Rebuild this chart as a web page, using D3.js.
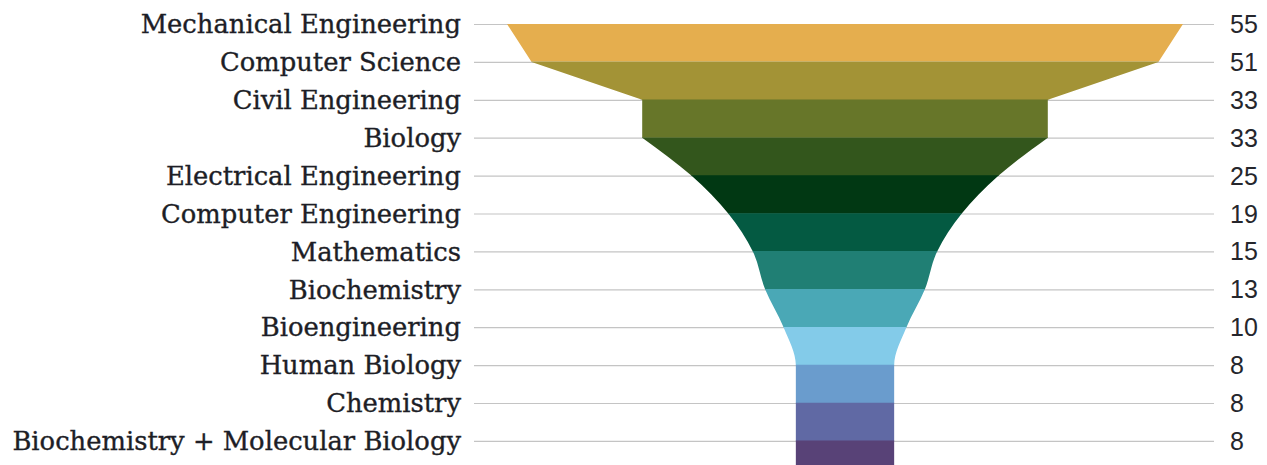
<!DOCTYPE html>
<html>
<head>
<meta charset="utf-8">
<script src="https://cdn.jsdelivr.net/npm/d3@7"></script>
<style>
  body { margin: 0; background: #fff; }
  svg { display: block; }
</style>
</head>
<body>
<div id="chart"></div>
<script>
const majors = ['Mechanical Engineering', 'Computer Science', 'Civil Engineering', 'Biology',
    'Electrical Engineering', 'Computer Engineering', 'Mathematics', 'Biochemistry',
    'Bioengineering', 'Human Biology', 'Chemistry', 'Biochemistry + Molecular Biology'];
const counts = [55, 51, 33, 33, 25, 19, 15, 13, 10, 8, 8, 8];
const bandColors = ['#e5ae4e', '#a39336', '#677629', '#33561c', '#013813', '#045a42',
    '#207f74', '#4aa8b6', '#83cbe9', '#6a9ccd', '#6069a4', '#584277'];

const width = 1267, height = 465;
const centerX = 845;
const lineLeft = 474, lineRight = 1214;

const svg = d3.select('#chart').append('svg')
    .attr('width', width)
    .attr('height', height);

// one row per major, the last row gets an extra slot for the bottom edge
const y = d3.scalePoint()
    .domain(d3.range(majors.length + 1))
    .range([24, 24 + 37.9 * majors.length]);

const half = d3.scaleLinear().domain([0, 55]).range([0, 338]);

// grid lines behind the funnel
svg.append('g').selectAll('line')
    .data(majors)
    .join('line')
    .attr('x1', lineLeft)
    .attr('x2', lineRight)
    .attr('y1', (d, i) => y(i) + 0.5)
    .attr('y2', (d, i) => y(i) + 0.5)
    .attr('stroke', '#c4c4c4')
    .attr('stroke-width', 1.2);

// outline points: value at each row boundary, last value repeated for the bottom
const pts = counts.map((v, i) => ({ v, i })).concat([{ v: counts[counts.length - 1], i: counts.length }]);

const area = d3.area()
    .y(d => y(d.i))
    .x0(d => centerX - half(d.v))
    .x1(d => centerX + half(d.v));

// top part is straight, the rest is smoothed
const topPath = area.curve(d3.curveLinear)(pts.slice(0, 4));
const lowPath = area.curve(d3.curveMonotoneY)(pts.slice(3));

const defs = svg.append('defs');
majors.forEach((m, i) => {
    defs.append('clipPath').attr('id', 'band' + i)
        .append('rect')
        .attr('x', 0)
        .attr('width', width)
        .attr('y', y(i) - (i === 0 ? 1 : 0.3))
        .attr('height', y(i + 1) - y(i) + 0.6);
});

const bands = svg.append('g');
majors.forEach((m, i) => {
    const g = bands.append('g').attr('clip-path', `url(#band${i})`);
    [topPath, lowPath].forEach(p => {
        g.append('path').attr('d', p).attr('fill', bandColors[i]);
    });
});

// category labels
svg.append('g').selectAll('text')
    .data(majors)
    .join('text')
    .attr('x', 461)
    .attr('y', (d, i) => y(i))
    .attr('dy', '0.36em')
    .attr('text-anchor', 'end')
    .attr('font-family', 'DejaVu Serif')
    .attr('font-size', 25.8)
    .attr('fill', '#1d1e26')
    .attr('stroke', '#1d1e26')
    .attr('stroke-width', 0.35)
    .text(d => d);

// values
svg.append('g').selectAll('text')
    .data(counts)
    .join('text')
    .attr('x', 1230)
    .attr('y', (d, i) => y(i))
    .attr('dy', '0.36em')
    .attr('font-family', 'Liberation Sans')
    .attr('font-size', 25)
    .attr('fill', '#25262c')
    .text(d => d);
</script>
</body>
</html>
